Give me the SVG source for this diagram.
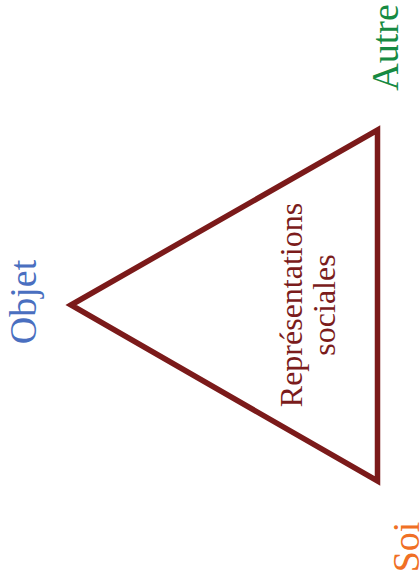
<svg xmlns="http://www.w3.org/2000/svg" width="420" height="578" viewBox="0 0 420 578">
<style>
.lbl{font-size:38px}
.rs{font-size:32px;fill:#7b1c1c}
</style>
<rect width="420" height="578" fill="#ffffff"/>
<g id="connectors">
<polygon points="71,305 377.5,130 377.5,481" fill="none" stroke="#7b1a1a" stroke-width="5.5" stroke-linejoin="miter"/>
</g>
<g font-family="Liberation Serif, Tinos, Times New Roman, DejaVu Serif, serif" text-anchor="middle">
<g id="objet"><text class="lbl" fill="#4a6fc0" transform="translate(36,302) rotate(-90)">Objet</text></g>
<g id="autre"><text class="lbl" fill="#168a42" transform="translate(398,47.5) rotate(-90)">Autre</text></g>
<g id="soi"><text class="lbl" fill="#f07025" transform="translate(419,547) rotate(-90)">Soi</text></g>
<g id="representations">
<text class="rs" transform="translate(302,305) rotate(-90)">Représentations</text>
<text class="rs" transform="translate(335,305) rotate(-90)">sociales</text>
</g>
</g>
</svg>
